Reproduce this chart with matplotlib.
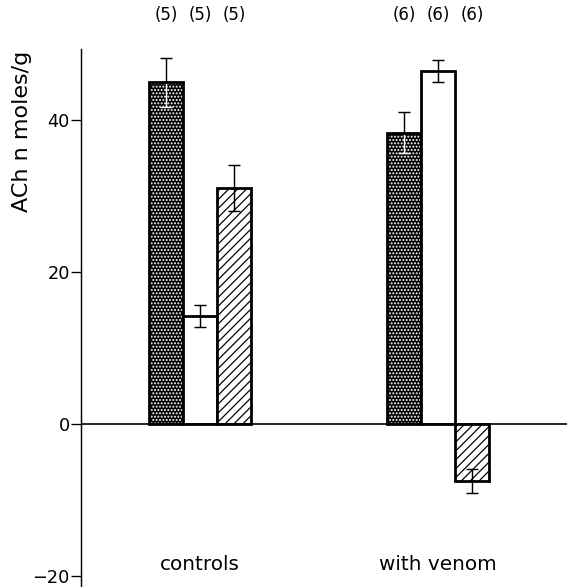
import matplotlib
matplotlib.use("Agg")
import matplotlib.pyplot as plt
import numpy as np

groups = ["controls", "with venom"]
series = ["dark", "white", "hatched"]
values = {
    "dark": [44.9, 38.3],
    "white": [14.2, 46.4],
    "hatched": [31.0, -7.5],
}
errors = {
    "dark": [3.2, 2.7],
    "white": [1.5, 1.5],
    "hatched": [3.0, 1.6],
}
counts = [["(5)", "(5)", "(5)"], ["(6)", "(6)", "(6)"]]
yticks = [-20, 0, 20, 40]

DPI = 80
plt.rcParams["font.family"] = ["DejaVu Sans"]

fig = plt.figure(figsize=(567 / DPI, 587 / DPI), dpi=DPI)
ax = fig.add_axes([81 / 567, 0.0, 1 - 81 / 567, 1 - 49 / 587])

w = 0.143
xg = np.arange(len(groups))
offsets = [-w, 0.0, w]
olw = 2.5
ekw = dict(fmt="none", elinewidth=1.3, capsize=5, capthick=1.3)

for s, off in zip(series, offsets):
    x = xg + off
    v = np.array(values[s])
    e = np.array(errors[s])
    if s == "dark":
        with plt.rc_context({"hatch.linewidth": 1.2}):
            ax.bar(x, v, w, color="black", edgecolor="white", hatch="....", lw=0, zorder=1)
        ax.errorbar(x, v, yerr=[e, np.zeros_like(e)], ecolor="white", zorder=2, **ekw)
        ax.bar(x, v, w, fill=False, edgecolor="black", lw=olw, zorder=3)
        ax.errorbar(x, v, yerr=[np.zeros_like(e), e], ecolor="black", zorder=4, **ekw)
    elif s == "white":
        ax.bar(x, v, w, color="white", edgecolor="black", lw=olw, zorder=3)
        ax.errorbar(x, v, yerr=e, ecolor="black", zorder=4, **ekw)
    else:
        with plt.rc_context({"hatch.linewidth": 1.1}):
            ax.bar(x, v, w, color="white", edgecolor="black", hatch="///", lw=olw, zorder=3)
        ax.errorbar(x, v, yerr=e, ecolor="black", zorder=4, **ekw)

# n labels above bars
for gi in range(len(groups)):
    for off, lab in zip(offsets, counts[gi]):
        ax.text(xg[gi] + off, 1.063, lab, transform=ax.get_xaxis_transform(),
                ha="center", va="center", fontsize=15, clip_on=False)

# group labels
for gi, g in enumerate(groups):
    ax.text(xg[gi], -18.5, g, ha="center", va="center", fontsize=18)

ax.axhline(0, color="black", lw=1.5, zorder=5)

ax.set_xlim(-0.5, 1.542)
ax.set_ylim(-21.45, 49.3)
ax.set_yticks(yticks)
ax.set_yticklabels([str(t) if t >= 0 else "\u2212" + str(-t) for t in yticks])
ax.tick_params(axis="y", direction="out", length=9, width=1.2, pad=1, labelsize=16)
ax.set_xticks([])
for sp in ["top", "right", "bottom"]:
    ax.spines[sp].set_visible(False)
ax.spines["left"].set_linewidth(1.3)
ax.patch.set_alpha(0)

fig.text(22 / 567, 1 - 131 / 587, "ACh n moles/g", rotation=90,
         ha="center", va="center", fontsize=20)

fig.savefig("out.png", dpi=DPI)
